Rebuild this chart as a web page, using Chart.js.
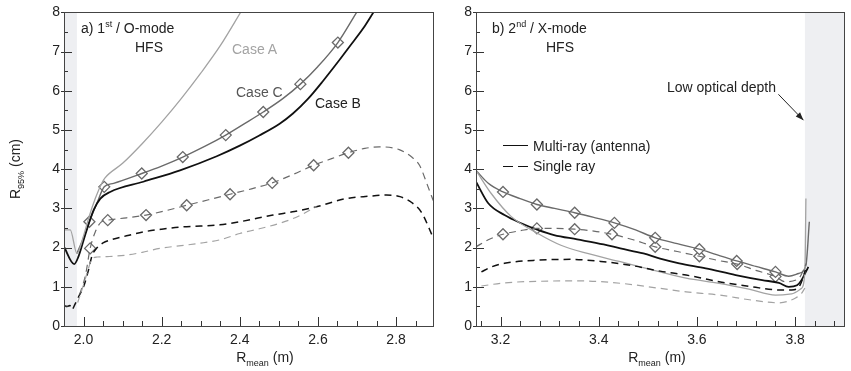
<!DOCTYPE html>
<html><head><meta charset="utf-8">
<script src="https://cdn.jsdelivr.net/npm/chart.js@4.4.1/dist/chart.umd.min.js"></script>
<style>
html,body{margin:0;padding:0;background:#fff;}
#wrap{position:relative;width:851px;height:371px;overflow:hidden;font-family:"Liberation Sans",Arial,Helvetica,sans-serif;color:#222;}
.cv{position:absolute;top:0;}
.t{position:absolute;white-space:nowrap;font-size:14px;line-height:14px;}
.t sup,.t sub{font-size:9px;line-height:0;}
.ln{position:absolute;height:0;border-top:1.5px solid #111;}
</style></head><body>
<div id="wrap">
  <div class="cv" style="left:0;width:440px;height:371px"><canvas id="ca" width="440" height="371"></canvas></div>
  <div class="cv" style="left:420px;width:431px;height:371px"><canvas id="cb" width="431" height="371"></canvas></div>

  <div class="t" style="left:81px;top:21px">a)&nbsp;1<sup>st</sup> / O-mode</div>
  <div class="t" style="left:135px;top:40px">HFS</div>
  <div class="t" style="left:232px;top:42px;color:#a3a3a3">Case A</div>
  <div class="t" style="left:236px;top:85px;color:#555">Case C</div>
  <div class="t" style="left:315px;top:96px;color:#222">Case B</div>

  <div class="t" style="left:492px;top:21px">b)&nbsp;2<sup>nd</sup> / X-mode</div>
  <div class="t" style="left:546px;top:40px">HFS</div>
  <div class="t" style="left:667px;top:80px">Low optical depth</div>

  <div class="ln" style="left:503px;top:145px;width:25px"></div>
  <div class="t" style="left:533px;top:139px">Multi-ray (antenna)</div>
  <div class="ln" style="left:503px;top:166px;width:10px"></div>
  <div class="ln" style="left:518px;top:166px;width:10px"></div>
  <div class="t" style="left:533px;top:159px">Single ray</div>

  <div class="t" style="left:-28px;top:162px;width:86px;text-align:center;transform:rotate(-90deg)">R<sub>95%</sub> (cm)</div>
  <div class="t" style="left:215px;top:350px;width:100px;text-align:center">R<sub>mean</sub> (m)</div>
  <div class="t" style="left:607px;top:350px;width:100px;text-align:center">R<sub>mean</sub> (m)</div>
</div>
<script>
// ---------- axis ticks ----------
const aXTicks = [2.0, 2.2, 2.4, 2.6, 2.8];
const bXTicks = [3.2, 3.4, 3.6, 3.8];
const yTicks = [0, 1, 2, 3, 4, 5, 6, 7, 8];

// ---------- panel a: 1st / O-mode HFS ----------
const aA_x = [1.95,1.966,1.983,2.0,2.013,2.03,2.047,2.055,2.1,2.15,2.2,2.25,2.3,2.35,2.405];
const aA_y = [2.45,2.45,1.85,2.3,2.75,3.25,3.65,3.78,4.15,4.65,5.2,5.8,6.45,7.15,8.05];

const aC_x = [1.983,2.0,2.015,2.035,2.053,2.077,2.149,2.2,2.254,2.31,2.364,2.41,2.46,2.51,2.555,2.6,2.651,2.702];
const aC_y = [1.85,2.25,2.66,3.15,3.55,3.64,3.89,4.08,4.31,4.58,4.87,5.15,5.46,5.8,6.17,6.62,7.23,8.05];
const aCm_x = [2.015,2.053,2.149,2.254,2.364,2.46,2.555,2.651];
const aCm_y = [2.66,3.55,3.89,4.31,4.87,5.46,6.17,7.23];

const aB_x = [1.95,1.976,1.987,2.005,2.026,2.043,2.068,2.153,2.247,2.341,2.4,2.45,2.502,2.536,2.575,2.613,2.65,2.681,2.715,2.745];
const aB_y = [2.02,1.58,1.77,2.35,2.96,3.25,3.42,3.68,3.97,4.33,4.6,4.86,5.16,5.42,5.8,6.25,6.72,7.13,7.58,8.05];

const aCs_x = [1.99,2.005,2.017,2.03,2.045,2.062,2.11,2.16,2.21,2.264,2.32,2.375,2.43,2.483,2.535,2.589,2.635,2.678,2.72,2.757,2.808,2.84,2.86,2.88,2.895];
const aCs_y = [0.8,1.3,1.98,2.4,2.65,2.70,2.76,2.83,2.94,3.08,3.22,3.36,3.5,3.65,3.86,4.10,4.27,4.42,4.53,4.57,4.5,4.31,4.1,3.6,3.2];
const aCsm_x = [2.017,2.062,2.16,2.264,2.375,2.483,2.589,2.678];
const aCsm_y = [1.98,2.70,2.83,3.08,3.36,3.65,4.10,4.42];

const aBs_x = [1.95,1.958,1.965,1.97,1.978,1.99,2.0,2.012,2.022,2.035,2.05,2.068,2.11,2.153,2.2,2.255,2.3,2.349,2.4,2.485,2.54,2.596,2.672,2.73,2.775,2.81,2.84,2.865,2.895];
const aBs_y = [0.52,0.5,0.52,0.42,0.55,0.8,1.0,1.4,1.8,2.0,2.12,2.19,2.3,2.4,2.47,2.53,2.55,2.58,2.66,2.83,2.92,3.04,3.25,3.31,3.34,3.3,3.15,2.9,2.25];

const aAs_x = [1.985,2.0,2.012,2.022,2.035,2.06,2.111,2.15,2.196,2.25,2.298,2.35,2.4,2.45,2.502,2.55,2.596];
const aAs_y = [0.6,1.05,1.45,1.72,1.76,1.77,1.81,1.88,1.98,2.05,2.11,2.2,2.36,2.48,2.62,2.8,3.05];

// ---------- panel b: 2nd / X-mode HFS ----------
const bC_x = [3.15,3.175,3.205,3.24,3.274,3.31,3.351,3.39,3.432,3.475,3.515,3.56,3.605,3.64,3.681,3.72,3.76,3.787,3.807,3.822,3.829];
const bC_y = [3.97,3.64,3.42,3.25,3.10,3.0,2.89,2.77,2.63,2.45,2.25,2.1,1.96,1.82,1.66,1.52,1.38,1.27,1.34,1.55,2.66];
const bCm_x = [3.205,3.274,3.351,3.432,3.515,3.605,3.681,3.76];
const bCm_y = [3.42,3.10,2.89,2.63,2.25,1.96,1.66,1.38];

const bCs_x = [3.15,3.175,3.205,3.24,3.274,3.31,3.351,3.39,3.427,3.47,3.515,3.56,3.605,3.64,3.682,3.72,3.76,3.78,3.807,3.823];
const bCs_y = [2.02,2.2,2.34,2.43,2.49,2.49,2.47,2.42,2.34,2.2,2.02,1.9,1.78,1.68,1.58,1.42,1.26,1.13,1.21,1.6];
const bCsm_x = [3.205,3.274,3.351,3.427,3.515,3.605,3.682,3.76];
const bCsm_y = [2.34,2.49,2.47,2.34,2.02,1.78,1.58,1.26];

const bB_x = [3.15,3.175,3.208,3.242,3.276,3.309,3.356,3.41,3.444,3.491,3.525,3.564,3.618,3.679,3.733,3.767,3.787,3.804,3.813,3.827];
const bB_y = [3.68,3.13,2.83,2.62,2.45,2.32,2.21,2.08,1.98,1.85,1.72,1.60,1.47,1.30,1.17,1.10,1.0,1.04,1.17,1.51];

const bA_x = [3.15,3.181,3.222,3.276,3.323,3.377,3.444,3.525,3.578,3.645,3.706,3.76,3.793,3.813,3.82,3.822];
const bA_y = [3.97,3.38,2.79,2.36,2.06,1.85,1.64,1.38,1.22,1.09,0.94,0.79,0.82,0.96,1.43,3.25];

const bBs_x = [3.161,3.18,3.208,3.276,3.343,3.41,3.464,3.525,3.578,3.645,3.712,3.767,3.793,3.81,3.821];
const bBs_y = [1.38,1.5,1.60,1.68,1.70,1.64,1.55,1.40,1.30,1.13,1.0,0.92,0.92,1.04,1.43];

const bAs_x = [3.161,3.208,3.276,3.363,3.444,3.525,3.578,3.645,3.712,3.767,3.8,3.813,3.82];
const bAs_y = [1.02,1.10,1.14,1.15,1.09,0.96,0.87,0.79,0.66,0.59,0.71,0.83,0.97];

// shaded ranges
const aShade = [1.95, 1.983];
const bShade = [3.82, 3.9];

// ---------- helpers ----------
const LIGHT = '#a3a3a3', DARK = '#6a6a6a', BLACK = '#111';
const pts = (xs, ys) => xs.map((x, i) => ({x, y: ys[i]}));
function line(xs, ys, color, w, dash) {
  return {data: pts(xs, ys), borderColor: color, borderWidth: w, borderDash: dash || [],
    pointRadius: 0, fill: false, cubicInterpolationMode: 'monotone', showLine: true};
}
function marks(xs, ys) {
  return {data: pts(xs, ys), showLine: false, pointStyle: 'rectRot', pointRadius: 5.5,
    pointBorderColor: DARK, pointBackgroundColor: '#fff', pointBorderWidth: 1.3, borderColor: DARK};
}
const DASH = [7, 5];

function makeDecor(o) {
  return {
    id: 'decor',
    beforeDatasetsDraw(chart) {
      const {ctx, chartArea: a, scales: {x}} = chart;
      ctx.save();
      ctx.fillStyle = '#eeeff2';
      const x0 = x.getPixelForValue(o.shade[0]), x1 = x.getPixelForValue(o.shade[1]);
      ctx.fillRect(x0, a.top, x1 - x0, a.bottom - a.top);
      ctx.restore();
    },
    afterDraw(chart) {
      const {ctx, chartArea: a, scales: {x, y}} = chart;
      ctx.save();
      ctx.setLineDash([]);
      ctx.strokeStyle = '#333';
      ctx.lineWidth = 1;
      ctx.beginPath();
      const n = Math.round((o.xEnd - o.xMin) / o.xStep);
      for (let i = 0; i <= n; i++) {
        const vv = Math.round((o.xMin + i * o.xStep) * 1000) / 1000;
        const major = o.xMajor.some(m => Math.abs(m - vv) < 1e-6);
        const px = Math.round(x.getPixelForValue(vv)) + 0.5;
        ctx.moveTo(px, a.bottom);
        ctx.lineTo(px, a.bottom - (major ? 9 : 5));
      }
      for (let j = 0; j <= 16; j++) {
        const v = j / 2;
        const major = j % 2 === 0;
        const py = Math.round(y.getPixelForValue(v)) + 0.5;
        ctx.moveTo(a.left - (major ? 3 : 0), py);
        ctx.lineTo(a.left + (major ? 8 : 4), py);
      }
      ctx.stroke();
      ctx.strokeStyle = '#444';
      ctx.strokeRect(Math.round(a.left) + 0.5, Math.round(a.top) + 0.5,
        Math.round(a.right - a.left), Math.round(a.bottom - a.top));
      if (o.arrow) {
        const [ax0, ay0, ax1, ay1] = o.arrow;
        const p0x = x.getPixelForValue(ax0), p0y = y.getPixelForValue(ay0);
        const p1x = x.getPixelForValue(ax1), p1y = y.getPixelForValue(ay1);
        ctx.strokeStyle = '#222'; ctx.fillStyle = '#222';
        ctx.beginPath(); ctx.moveTo(p0x, p0y); ctx.lineTo(p1x, p1y); ctx.stroke();
        const ang = Math.atan2(p1y - p0y, p1x - p0x), L = 8, W = 3;
        ctx.beginPath();
        ctx.moveTo(p1x, p1y);
        ctx.lineTo(p1x - L * Math.cos(ang) + W * Math.sin(ang), p1y - L * Math.sin(ang) - W * Math.cos(ang));
        ctx.lineTo(p1x - L * Math.cos(ang) - W * Math.sin(ang), p1y - L * Math.sin(ang) + W * Math.cos(ang));
        ctx.closePath(); ctx.fill();
      }
      ctx.restore();
    }
  };
}

function makeChart(id, datasets, xmin, xmax, xTicks, yWidth, padRight, decorOpts) {
  return new Chart(document.getElementById(id), {
    type: 'line',
    data: {datasets},
    plugins: [makeDecor(decorOpts)],
    options: {
      responsive: false, animation: false, devicePixelRatio: 1,
      layout: {padding: {top: 12, right: padRight, left: 0, bottom: 0}},
      plugins: {legend: {display: false}, tooltip: {enabled: false}},
      scales: {
        x: {type: 'linear', min: xmin, max: xmax,
          grid: {display: false, drawTicks: false}, border: {display: false},
          afterBuildTicks: s => { s.ticks = xTicks.map(v => ({value: v})); },
          afterFit: s => { s.height = 45; },
          ticks: {padding: 6, color: '#222', font: {family: 'Liberation Sans', size: 14},
            callback: v => Number(v).toFixed(1), maxRotation: 0, autoSkip: false}},
        y: {type: 'linear', min: 0, max: 8,
          grid: {display: false, drawTicks: false}, border: {display: false},
          afterBuildTicks: s => { s.ticks = yTicks.map(v => ({value: v})); },
          afterFit: s => { s.width = yWidth; },
          ticks: {padding: 4, color: '#222', font: {family: 'Liberation Sans', size: 14}}}
      }
    }
  });
}

makeChart('ca', [
  line(aAs_x, aAs_y, LIGHT, 1.2, DASH),
  line(aCs_x, aCs_y, DARK, 1.2, DASH),
  line(aBs_x, aBs_y, BLACK, 1.5, DASH),
  line(aA_x, aA_y, LIGHT, 1.3),
  line(aB_x, aB_y, BLACK, 1.8),
  line(aC_x, aC_y, DARK, 1.4),
  marks(aCm_x, aCm_y),
  marks(aCsm_x, aCsm_y)
], 1.95, 2.895, aXTicks, 64, 6, {shade: aShade, xMin: 1.95, xEnd: 2.85, xStep: 0.05, xMajor: aXTicks});

makeChart('cb', [
  line(bAs_x, bAs_y, LIGHT, 1.2, DASH),
  line(bBs_x, bBs_y, BLACK, 1.5, DASH),
  line(bCs_x, bCs_y, DARK, 1.2, DASH),
  line(bA_x, bA_y, LIGHT, 1.3),
  line(bB_x, bB_y, BLACK, 1.8),
  line(bC_x, bC_y, DARK, 1.4),
  marks(bCm_x, bCm_y),
  marks(bCsm_x, bCsm_y)
], 3.15, 3.9, bXTicks, 56, 3, {shade: bShade, xMin: 3.16, xEnd: 3.88, xStep: 0.04, xMajor: bXTicks, arrow: [3.766, 5.91, 3.817, 5.25]});
</script>
</body></html>
